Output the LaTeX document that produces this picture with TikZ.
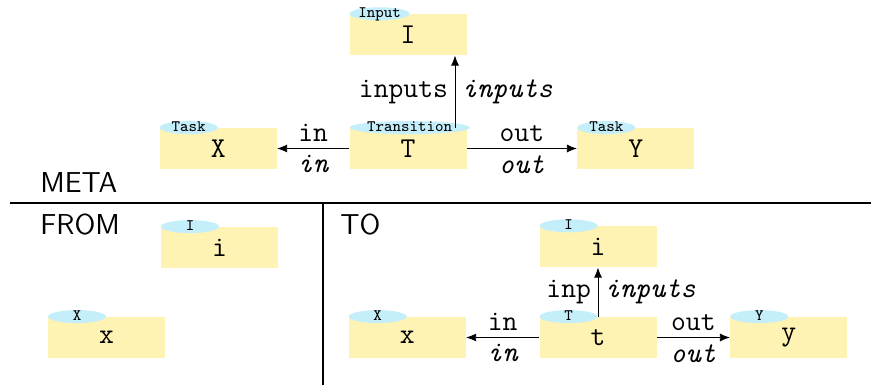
\documentclass[tikz,border=0pt]{standalone}
\usetikzlibrary{positioning,arrows.meta,shapes.geometric}

\definecolor{boxyellow}{HTML}{FFF3B4}
\definecolor{tagblue}{HTML}{C4EEFA}

\tikzset{
    obj/.style={fill=boxyellow, minimum width=58.5pt, minimum height=20.5pt,
        inner sep=0pt, font=\Large\ttfamily},
    tag/.style={ellipse, fill=tagblue, inner sep=0pt, minimum width=29pt,
        minimum height=6.5pt, text height=4pt, text depth=0pt,
        font=\footnotesize\ttfamily, anchor=west},
    rel/.style={-{Latex[length=5pt,width=4pt]}},
    lbl/.style={font=\Large\ttfamily},
    ilbl/.style={font=\Large\ttfamily\itshape},
    part/.style={font=\Large\sffamily, anchor=base west, inner sep=0pt}
}

\begin{document}
\begin{tikzpicture}[x=1pt,y=1pt]
\useasboundingbox (0,0) rectangle (435.5,192.5);

% meta level
\node[obj] (T) at (204,118.25) {T};
\node[obj, left=36pt of T] (X) {X};
\node[obj, right=55pt of T] (Y) {Y};
\node[obj, above=36pt of T] (I) {I};
\node[tag] at (T.north west) {Transition};
\node[tag] at (X.north west) {Task};
\node[tag] at (Y.north west) {Task};
\node[tag] at (I.north west) {Input};

\draw[rel] (T) -- node[lbl,above] {in} node[ilbl,below] {in} (X);
\draw[rel] (T) -- node[lbl,above] {out} node[ilbl,below] {out} (Y);
\draw[rel] ([xshift=23.5pt]T.north) -- node[lbl,left] {inputs}
    node[ilbl,right] {inputs} ([xshift=23.5pt]I.south);

% separators
\coordinate (sepL) at (5,91);
\coordinate (sepR) at (435.5,91);
\coordinate (midT) at (161.5,91);
\coordinate (midB) at (161.5,0);
\draw[semithick] (sepL) -- (sepR);
\draw[semithick] (midT) -- (midB);
\node[part] (meta) at (20,96) {META};
\node[part] (from) at (20,75) {FROM};
\node[part] (to) at (170,75) {TO};

% from
\node[obj] (fi) at (109.75,68.75) {i};
\node[obj] (fx) at (53.25,23.75) {x};
\node[tag] at (fi.north west) {I};
\node[tag] at (fx.north west) {X};

% to
\node[obj] (tt) at (299,23.75) {t};
\node[obj, left=36.5pt of tt] (tx) {x};
\node[obj, right=36.5pt of tt] (ty) {y};
\node[obj, above=24.5pt of tt] (ti) {i};
\node[tag] at (tt.north west) {T};
\node[tag] at (tx.north west) {X};
\node[tag] at (ty.north west) {Y};
\node[tag] at (ti.north west) {I};

\draw[rel] (tt) -- node[lbl,above] {in} node[ilbl,below] {in} (tx);
\draw[rel] (tt) -- node[lbl,above] {out} node[ilbl,below] {out} (ty);
\draw[rel] (tt) -- node[lbl,left] {inp} node[ilbl,right] {inputs} (ti);

\end{tikzpicture}
\end{document}
